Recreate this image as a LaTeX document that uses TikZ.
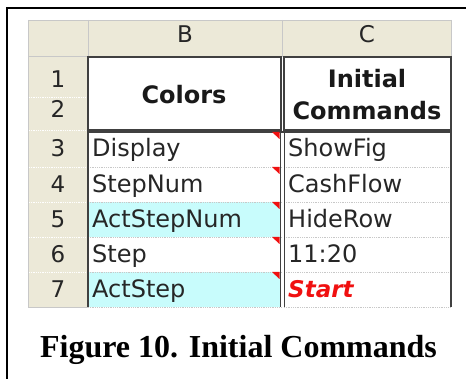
\documentclass[tikz,border=0pt]{standalone}
\usepackage{fontspec}
\setmainfont{Liberation Serif}
\newfontfamily\cellfont{DejaVu Sans}
\definecolor{hdrbg}{HTML}{ECE9D8}
\definecolor{cyancell}{HTML}{C8FCFC}
\definecolor{gridgray}{HTML}{C8C8C8}
\definecolor{bordergray}{HTML}{404040}
\definecolor{txtgray}{HTML}{262626}
\definecolor{startred}{HTML}{F01010}
\begin{document}
\begin{tikzpicture}[x=1pt,y=-1pt,
  celltxt/.style={inner sep=0pt,anchor=base west,text=txtgray,font=\cellfont\fontsize{24}{24}\selectfont},
  ctrtxt/.style={inner sep=0pt,anchor=base,text=txtgray,font=\cellfont\fontsize{23}{23}\selectfont},
  boldtxt/.style={inner sep=0pt,anchor=base,text=black!90,font=\cellfont\bfseries\fontsize{24}{24}\selectfont},
  gridline/.style={gridgray,densely dotted,line width=0.8pt},
  hdrline/.style={white,line width=0.8pt},
  thick border/.style={bordergray,line width=2pt},
  comment/.style={fill=startred,draw=none}]
\useasboundingbox (0,0) rectangle (466,379);
\fill[white] (0,0) rectangle (466,379);
% outer frame
\draw[black,line width=1.6pt] (7,379) -- (7,8) -- (466,8);
% header row and row-number column
\fill[hdrbg] (28,20) rectangle (451,57);
\fill[hdrbg] (28,57) rectangle (88,307);
% cyan cells
\fill[cyancell] (88,202) rectangle (281,237);
\fill[cyancell] (88,272) rectangle (281,307);
% header separators
\draw[gridgray,line width=0.8pt] (28,20) -- (451,20);
\draw[gridgray,line width=1pt] (88,20) -- (88,57);
\draw[gridgray,line width=1pt] (282,20) -- (282,57);
\draw[gridgray,line width=1pt] (451,20) -- (451,57);
\draw[gridgray,line width=1pt] (28,20) -- (28,307);
\draw[gridgray,line width=1pt] (28,57) -- (88,57);
% row-number separators
\foreach \yy in {97,130,167,202,237,272}
  \draw[hdrline,densely dotted] (29,\yy) -- (87,\yy);
\draw[gridgray,line width=0.8pt] (28,307) -- (88,307);
% cell gridlines
\foreach \yy in {167,202,237,272,307}{
  \draw[gridline] (88,\yy) -- (281,\yy);
  \draw[gridline] (284,\yy) -- (451,\yy);}
% thick borders
\draw[thick border] (88,57) rectangle (281,130);
\draw[thick border] (284,57) rectangle (451,130);
\draw[thick border] (88,130) -- (88,307);
\draw[bordergray,line width=1.2pt] (88,132) -- (451,132);
\draw[bordergray,line width=1.4pt] (280.5,130) -- (280.5,307);
\draw[bordergray,line width=1.4pt] (284.5,130) -- (284.5,307);
\draw[bordergray,line width=1.4pt] (451,130) -- (451,307);
% comment indicators
\foreach \yy in {132,167,202,237,272}
  \fill[comment] (272,\yy) -- (279.5,\yy) -- (279.5,\yy+7) -- cycle;
% column headers
\node[ctrtxt] (hB) at (185,43) {B};
\node[ctrtxt] (hC) at (367,43) {C};
% row numbers
\node[ctrtxt] (r1) at (58,88) {1};
\node[ctrtxt] (r2) at (58,118) {2};
\node[ctrtxt] (r3) at (58,157) {3};
\node[ctrtxt] (r4) at (58,193) {4};
\node[ctrtxt] (r5) at (58,228) {5};
\node[ctrtxt] (r6) at (58,263) {6};
\node[ctrtxt] (r7) at (58,298) {7};
% merged headers
\node[boldtxt] (colors) at (184,104) {Colors};
\node[boldtxt] (init) at (367,88) {Initial};
\node[boldtxt] (cmds) at (367,120) {Commands};
% column B
\node[celltxt] (b3) at (92,157) {Display};
\node[celltxt] (b4) at (92,193) {StepNum};
\node[celltxt] (b5) at (92,228) {ActStepNum};
\node[celltxt] (b6) at (92,263) {Step};
\node[celltxt] (b7) at (92,298) {ActStep};
% column C
\node[celltxt] (c3) at (288,157) {ShowFig};
\node[celltxt] (c4) at (288,193) {CashFlow};
\node[celltxt] (c5) at (288,228) {HideRow};
\node[celltxt] (c6) at (288,263) {11:20};
\node[celltxt,text=startred,font=\cellfont\bfseries\itshape\fontsize{23}{23}\selectfont] (c7) at (288,298) {Start};
% caption
\node[inner sep=0pt,anchor=base,font=\bfseries\fontsize{32}{32}\selectfont] (cap) at (238.5,357) {Figure 10. Initial Commands};
\end{tikzpicture}
\end{document}
